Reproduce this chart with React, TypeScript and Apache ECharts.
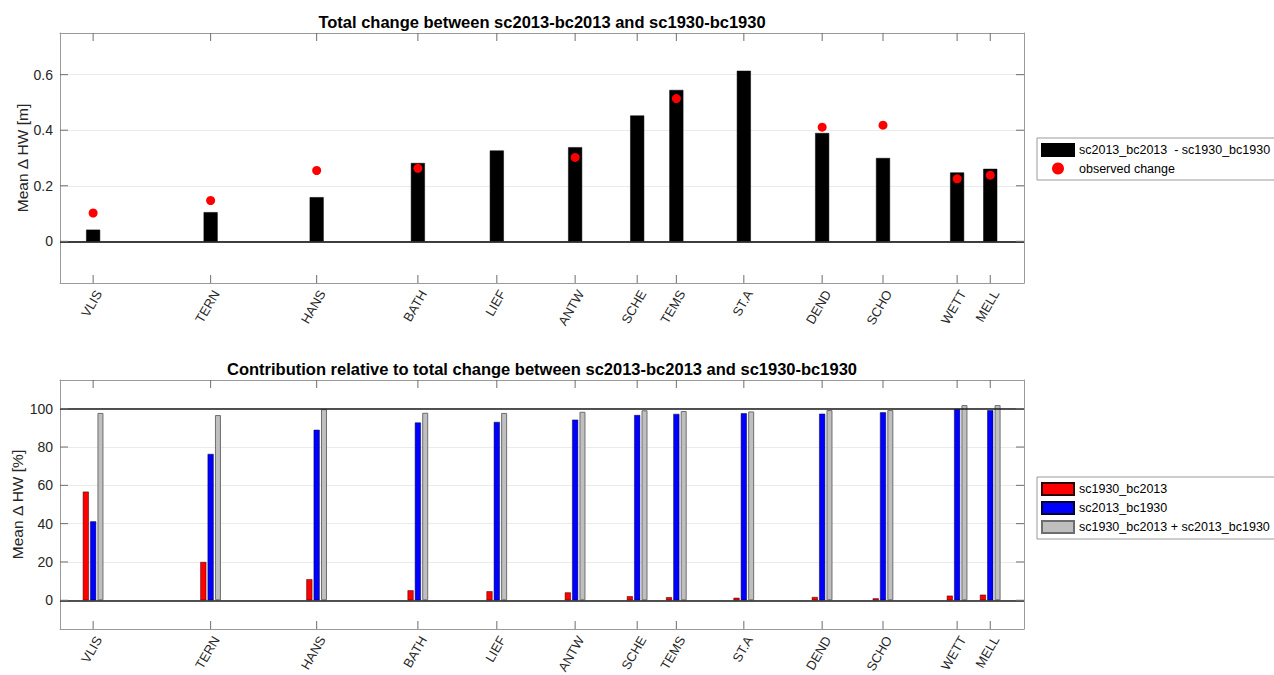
import React, { useEffect, useRef } from 'react';
import * as echarts from 'echarts';

// Tide gauge stations along the Scheldt, with their along-channel position [km]
const stations = ['VLIS', 'TERN', 'HANS', 'BATH', 'LIEF', 'ANTW', 'SCHE', 'TEMS', 'ST.A', 'DEND', 'SCHO', 'WETT', 'MELL'];
const stationKm = [5.5, 25.0, 42.6, 59.4, 72.5, 85.5, 95.8, 102.3, 113.5, 126.5, 136.6, 148.9, 154.4];

// Mean change in high water [m]
const totalChange = [0.042, 0.105, 0.159, 0.282, 0.327, 0.339, 0.453, 0.545, 0.614, 0.39, 0.3, 0.248, 0.261];
const observedChange: (number | null)[] = [0.102, 0.147, 0.255, 0.263, null, 0.302, null, 0.514, null, 0.411, 0.418, 0.225, 0.238];

// Contribution relative to the total change [%]
const contribBc = [56.7, 20.0, 11.0, 5.2, 4.7, 4.1, 2.1, 1.6, 1.3, 1.7, 1.0, 2.4, 2.9];
const contribSc = [41.2, 76.4, 89.0, 92.8, 93.1, 94.3, 96.7, 97.3, 97.6, 97.4, 98.1, 99.8, 99.2];
const contribSum = [97.8, 96.7, 99.8, 97.9, 97.8, 98.4, 99.2, 98.8, 98.6, 99.3, 99.3, 101.9, 101.9];

// Tick values of the two vertical axes
const ticksM = [0, 0.2, 0.4, 0.6];
const ticksPct = [0, 20, 40, 60, 80, 100];

const totalName = 'sc2013_bc2013  - sc1930_bc1930';
const observedName = 'observed change';
const bcName = 'sc1930_bc2013';
const scName = 'sc2013_bc1930';
const sumName = 'sc1930_bc2013 + sc2013_bc1930';

const FONT = 'Liberation Sans, Arial, Helvetica, sans-serif';
const AXIS_TEXT = '#262626';
const BOX = '#9a9a9a';
const TICK = '#6e6e6e';

const X_MIN = 0;
const X_MAX = 160;
const TICK_PX = 8;
const grids = [
  { left: 60, top: 33, width: 964, height: 250, yMin: -0.15, yMax: 0.75 },
  { left: 60, top: 380, width: 964, height: 249, yMin: -15, yMax: 115 },
];

const pairs = (ys: (number | null)[]) => stationKm.map((x, i) => [x, ys[i] == null ? '-' : ys[i]]);
const stationLabel = (v: number) => {
  const i = stationKm.indexOf(v);
  return i >= 0 ? stations[i] : '';
};

const boxLine = { show: true, onZero: false, lineStyle: { color: BOX, width: 1 } };

const xAxesFor = (gridIndex: number) => [
  {
    type: 'value',
    gridIndex,
    min: X_MIN,
    max: X_MAX,
    position: 'bottom',
    axisLine: boxLine,
    splitLine: { show: false },
    axisTick: { show: false },
    axisLabel: {
      show: true,
      customValues: stationKm,
      formatter: stationLabel,
      rotate: 60,
      align: 'right',
      verticalAlign: 'top',
      margin: 5,
      fontSize: 13,
      color: AXIS_TEXT,
      fontFamily: FONT,
    },
  },
  {
    type: 'value',
    gridIndex,
    min: X_MIN,
    max: X_MAX,
    position: 'top',
    axisLine: boxLine,
    splitLine: { show: false },
    axisTick: { show: false },
    axisLabel: { show: false },
  },
];

const yAxesFor = (gridIndex: number, step: number, ticks: number[], name: string, nameGap: number) => {
  const g = grids[gridIndex];
  const range = { type: 'value', min: g.yMin, max: g.yMax, minInterval: step, maxInterval: step };
  return [
    {
      ...range,
      gridIndex,
      position: 'left',
      name,
      nameLocation: 'middle',
      nameGap,
      nameMoveOverlap: false,
      nameTextStyle: { fontSize: 15.5, color: AXIS_TEXT, fontFamily: FONT },
      axisLine: boxLine,
      axisTick: { show: false },
      splitLine: { show: true, lineStyle: { color: '#ebebeb', width: 1 } },
      axisLabel: {
        show: true,
        customValues: ticks,
        margin: 7,
        fontSize: 14,
        color: AXIS_TEXT,
        fontFamily: FONT,
      },
    },
    {
      ...range,
      gridIndex,
      position: 'right',
      axisLine: boxLine,
      axisTick: { show: false },
      splitLine: { show: false },
      axisLabel: { show: false },
    },
  ];
};

const tickLine = (x1: number, y1: number, x2: number, y2: number) => ({
  type: 'line',
  shape: { x1, y1, x2, y2 },
  style: { stroke: TICK, lineWidth: 1 },
  silent: true,
});

// Inward ticks on the top and bottom edges, one pair per station
const stationTicks = (gridIndex: number, axisIndex: number) => {
  const g = grids[gridIndex];
  return {
    type: 'custom',
    xAxisIndex: axisIndex,
    yAxisIndex: axisIndex,
    silent: true,
    z: 6,
    data: stationKm.map((k) => [k, g.yMin]),
    renderItem: (_params: any, api: any) => {
      const k = api.value(0);
      const bottom = api.coord([k, g.yMin]);
      const top = api.coord([k, g.yMax]);
      return {
        type: 'group',
        children: [
          tickLine(bottom[0], bottom[1], bottom[0], bottom[1] - TICK_PX),
          tickLine(top[0], top[1], top[0], top[1] + TICK_PX),
        ],
      };
    },
  };
};

// Inward ticks on the left and right edges, one pair per value tick
const valueTicks = (axisIndex: number, ticks: number[]) => ({
  type: 'custom',
  xAxisIndex: axisIndex,
  yAxisIndex: axisIndex,
  silent: true,
  z: 6,
  data: ticks.map((v) => [X_MIN, v]),
  renderItem: (_params: any, api: any) => {
    const v = api.value(1);
    const left = api.coord([X_MIN, v]);
    const right = api.coord([X_MAX, v]);
    return {
      type: 'group',
      children: [
        tickLine(left[0], left[1], left[0] + TICK_PX, left[1]),
        tickLine(right[0], right[1], right[0] - TICK_PX, right[1]),
      ],
    };
  },
});

const refLines = (values: number[], color: string) => ({
  silent: true,
  symbol: ['none', 'none'],
  label: { show: false },
  emphasis: { disabled: true },
  lineStyle: { color, width: 1.5, type: 'solid' },
  data: values.map((v) => ({ yAxis: v })),
});

const legendBase = {
  orient: 'vertical',
  itemWidth: 32,
  itemHeight: 12,
  itemGap: 5,
  padding: [5, 6, 5, 4],
  borderColor: BOX,
  borderWidth: 1,
  borderRadius: 0,
  backgroundColor: '#fff',
  selectedMode: false,
  textStyle: { fontSize: 12.5, color: '#000', fontFamily: FONT },
};

const option = {
  animation: false,
  backgroundColor: '#fff',
  textStyle: { fontFamily: FONT },
  grid: grids.map((g) => ({
    left: g.left,
    top: g.top,
    width: g.width,
    height: g.height,
    show: false,
    outerBoundsMode: 'none',
  })),
  xAxis: [...xAxesFor(0), ...xAxesFor(1)],
  yAxis: [
    ...yAxesFor(0, 0.2, ticksM, 'Mean \u0394 HW [m]', 30),
    ...yAxesFor(1, 20, ticksPct, 'Mean \u0394 HW [%]', 35),
  ],
  legend: [
    {
      ...legendBase,
      left: 1037,
      top: 138,
      data: [
        { name: totalName, icon: 'rect' },
        { name: observedName, icon: 'circle' },
      ],
    },
    {
      ...legendBase,
      left: 1037,
      top: 477,
      data: [
        { name: bcName, icon: 'rect' },
        { name: scName, icon: 'rect' },
        { name: sumName, icon: 'rect' },
      ],
    },
  ],
  graphic: [
    {
      type: 'text',
      x: 542,
      y: 22,
      style: {
        text: 'Total change between sc2013-bc2013 and sc1930-bc1930',
        fill: '#000',
        font: `bold 16.5px ${FONT}`,
        textAlign: 'center',
        textVerticalAlign: 'middle',
      },
    },
    {
      type: 'text',
      x: 542,
      y: 369,
      style: {
        text: 'Contribution relative to total change between sc2013-bc2013 and sc1930-bc1930',
        fill: '#000',
        font: `bold 16.5px ${FONT}`,
        textAlign: 'center',
        textVerticalAlign: 'middle',
      },
    },
  ],
  series: [
    {
      name: totalName,
      type: 'bar',
      xAxisIndex: 0,
      yAxisIndex: 0,
      barWidth: 14,
      data: pairs(totalChange),
      itemStyle: { color: '#000', borderColor: '#000', borderWidth: 0.5 },
      emphasis: { disabled: true },
      markLine: refLines([0], '#000'),
      z: 2,
    },
    {
      name: observedName,
      type: 'scatter',
      xAxisIndex: 0,
      yAxisIndex: 0,
      symbol: 'circle',
      symbolSize: 9,
      data: pairs(observedChange),
      itemStyle: { color: '#ff0000', opacity: 1 },
      emphasis: { disabled: true },
      z: 5,
    },
    {
      name: bcName,
      type: 'bar',
      xAxisIndex: 2,
      yAxisIndex: 2,
      barWidth: 6,
      barGap: '22%',
      data: pairs(contribBc),
      itemStyle: { color: '#ff0000', borderColor: '#300000', borderWidth: 0.5 },
      emphasis: { disabled: true },
      markLine: refLines([0, 100], '#1a1a1a'),
      z: 2,
    },
    {
      name: scName,
      type: 'bar',
      xAxisIndex: 2,
      yAxisIndex: 2,
      barWidth: 6,
      barGap: '22%',
      data: pairs(contribSc),
      itemStyle: { color: '#0000ff', borderColor: '#000030', borderWidth: 0.5 },
      emphasis: { disabled: true },
      z: 2,
    },
    {
      name: sumName,
      type: 'bar',
      xAxisIndex: 2,
      yAxisIndex: 2,
      barWidth: 6,
      barGap: '22%',
      data: pairs(contribSum),
      itemStyle: { color: '#bfbfbf', borderColor: '#6e6e6e', borderWidth: 1 },
      emphasis: { disabled: true },
      z: 2,
    },
    stationTicks(0, 0),
    valueTicks(0, ticksM),
    stationTicks(1, 2),
    valueTicks(2, ticksPct),
  ],
};

export default function App() {
  const ref = useRef<HTMLDivElement>(null);

  useEffect(() => {
    if (!ref.current) return;
    const chart = echarts.init(ref.current, null, { renderer: 'svg' });
    chart.setOption(option as any);
    return () => chart.dispose();
  }, []);

  return (
    <div
      ref={ref}
      style={{ position: 'absolute', left: 0, top: 0, width: 1274, height: 675, background: '#fff' }}
    />
  );
}
